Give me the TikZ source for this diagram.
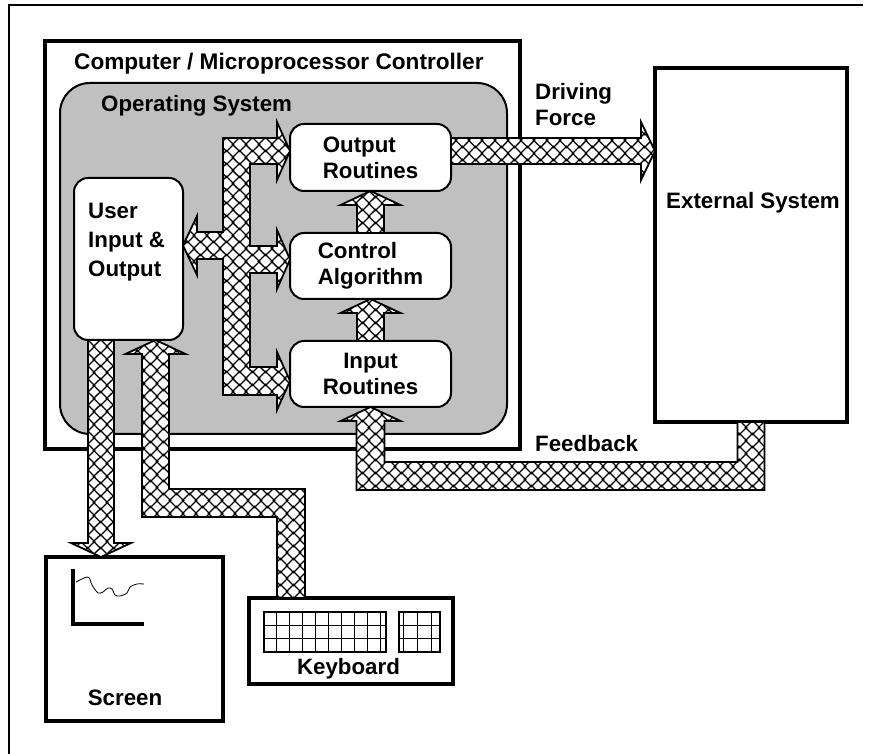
\documentclass[tikz,border=0pt]{standalone}
\usepackage{fontspec}
\setmainfont{Liberation Sans}
\usetikzlibrary{calc, patterns.meta}
\definecolor{osgray}{RGB}{192,192,192}
\tikzstyle{txt}=[font=\fontsize{22.3}{26}\selectfont\bfseries, inner sep=0pt, align=left]
\tikzstyle{rbox}=[rectangle, rounded corners=14pt, draw, line width=2pt,
  fill=white, txt, outer sep=0pt]
\tikzstyle{tbox}=[rectangle, draw, line width=4pt, fill=white, outer sep=0pt]
\tikzstyle{fat}=[draw, line width=1.8pt, line join=miter,
  preaction={fill=white}, pattern=xhatch]
\tikzdeclarepattern{
  name=xhatch, type=uncolored,
  bottom left={(0pt,0pt)}, top right={(12.5pt,12.5pt)},
  tile size={(12.5pt,12.5pt)},
  code={
    \draw[line width=1.3pt] (5pt,-1.25pt) -- (13.75pt,7.5pt)
      (-1.25pt,5pt) -- (7.5pt,13.75pt)
      (-1.25pt,7.5pt) -- (7.5pt,-1.25pt)
      (5pt,13.75pt) -- (13.75pt,5pt);
  }
}
% fat arrow pointing up from #1 to the tip #2
\newcommand{\fatup}[2]{%
  \draw[fat] let \p1=(#1), \p2=(#2) in
    (\x1-13.5pt,\y1) -- (\x1-13.5pt,\y2-14pt) -- (\x1-30pt,\y2-14pt) --
    (\x1,\y2) -- (\x1+30pt,\y2-14pt) -- (\x1+13.5pt,\y2-14pt) --
    (\x1+13.5pt,\y1) -- cycle;}

\begin{document}
\begin{tikzpicture}[x=1pt, y=1pt]
  \useasboundingbox (0,0) rectangle (873,754);
  \draw[line width=2pt] (863,749) -- (9,749) -- (9,0);

  % controller and operating system
  \node[tbox, minimum width=475pt, minimum height=408pt] (comp) at (282.5,509) {};
  \node[txt, anchor=base west, font=\fontsize{22.6}{26}\selectfont\bfseries] (ctitle)
    at (74,684) {Computer / Microprocessor Controller};
  \node[rectangle, rounded corners=30pt, draw, line width=2pt, fill=osgray,
    minimum width=447pt, minimum height=351pt] (os) at (283.5,495.5) {};
  \node[txt, anchor=base west] (ostitle) at (101,642) {Operating System};

  \node[rbox, minimum width=161pt, minimum height=67pt] (outr) at (370.5,596.5) {Output\\Routines};
  \node[rbox, minimum width=161pt, minimum height=66pt] (ctrl) at (370.5,488) {Control\\Algorithm};
  \node[rbox, minimum width=161pt, minimum height=66pt, align=center] (inr) at (370.5,380) {Input\\Routines};
  \node[rbox, minimum width=109pt, minimum height=162pt] (user) at (128.5,495) {};
  \node[txt, anchor=north west, font=\fontsize{22.3}{29}\selectfont\bfseries] (usertxt)
    at (88,551) {User\\Input \&\\Output};

  % outside world
  \node[tbox, minimum width=192pt, minimum height=354pt] (ext) at (751,509) {};
  \node[txt, anchor=north] (exttxt) at (753,562) {External System};
  \node[tbox, minimum width=177pt, minimum height=164pt] (scr) at (134.5,115) {};
  \node[txt, anchor=north] (scrtxt) at (125,64) {Screen};
  \node[tbox, minimum width=204pt, minimum height=86pt] (kbd) at (351,113) {};
  \node[txt, anchor=north] (kbdtxt) at (348.5,96) {Keyboard};
  \node[txt, anchor=north west] (drive) at (535,671) {Driving\\Force};
  \node[txt, anchor=north west] (fback) at (535,319) {Feedback};

  % screen plot and keys
  \draw[line width=4pt] (73,185) -- (73,130) -- (144,130);
  \draw[line width=0.8pt] plot[smooth] coordinates {(76,172) (88,177) (92,169)
    (98,161) (103,162) (108,166) (112,165) (115,159) (120,158) (127,161)
    (130,167) (137,170) (144,170)};
  \draw[line width=0.9pt, shift={(264,102)}, xstep=12.9, ystep=13.33] (0,0) grid (122,40);
  \draw[line width=1.2pt] (264,102) rectangle (386,142);
  \draw[line width=0.9pt, shift={(403,102)}, xstep=14, ystep=13.33] (-4,0) grid (37,40);
  \draw[line width=1.2pt] (399,102) rectangle (440,142);

  % data paths
  \draw[fat] let \p1=(outr.west), \p2=(ctrl.west), \p3=(inr.west), \p4=(user.east) in
    (223,616) -- (\x1-13pt,616) -- (\x1-13pt,632) -- (\x1,603) -- (\x1-13pt,574) --
    (\x1-13pt,590) -- (250,590) -- (250,508) -- (\x2-13pt,508) -- (\x2-13pt,524) --
    (\x2,494.5) -- (\x2-13pt,465) -- (\x2-13pt,481) -- (250,481) -- (250,387) --
    (\x3-13pt,387) -- (\x3-13pt,402) -- (\x3,373) -- (\x3-13pt,344) -- (\x3-13pt,359) --
    (223,359) -- (223,495) -- (\x4+14pt,495) -- (\x4+14pt,479) -- (\x4,508.5) --
    (\x4+14pt,538) -- (\x4+14pt,522) -- (223,522) -- cycle;
  \fatup{ctrl.north}{outr.south}
  \fatup{inr.north}{ctrl.south}
  \draw[fat] let \p1=(outr.east), \p2=(ext.west) in
    (\x1,616) -- (\x2-14pt,616) -- (\x2-14pt,632) -- (\x2,603) --
    (\x2-14pt,574) -- (\x2-14pt,590) -- (\x1,590) -- cycle;
  \draw[fat] let \p1=(ext.south), \p2=(inr.south) in
    (\x1+13.5pt,\y1) -- (\x1+13.5pt,264) -- (\x2-14pt,264) -- (\x2-14pt,\y2-14pt) --
    (\x2-30pt,\y2-14pt) -- (\x2,\y2) -- (\x2+30pt,\y2-14pt) -- (\x2+14pt,\y2-14pt) --
    (\x2+14pt,292) -- (\x1-13.5pt,292) -- (\x1-13.5pt,\y1) -- cycle;
  \draw[fat] let \p1=($(user.south)+(-27.5,0)$), \p2=(scr.north) in
    (\x1-13pt,\y1) -- (\x1-13pt,\y2+14pt) -- (\x1-30pt,\y2+14pt) -- (\x1,\y2) --
    (\x1+30pt,\y2+14pt) -- (\x1+13pt,\y2+14pt) -- (\x1+13pt,\y1) -- cycle;
  \draw[fat] let \p1=($(kbd.north)+(-60,0)$), \p2=($(user.south)+(27,0)$) in
    (\x1+14pt,\y1) -- (\x1+14pt,265) -- (\x2+13.5pt,265) -- (\x2+13.5pt,\y2-14pt) --
    (\x2+30pt,\y2-14pt) -- (\x2,\y2) -- (\x2-30pt,\y2-14pt) -- (\x2-13.5pt,\y2-14pt) --
    (\x2-13.5pt,237) -- (\x1-14pt,237) -- (\x1-14pt,\y1) -- cycle;
\end{tikzpicture}
\end{document}
